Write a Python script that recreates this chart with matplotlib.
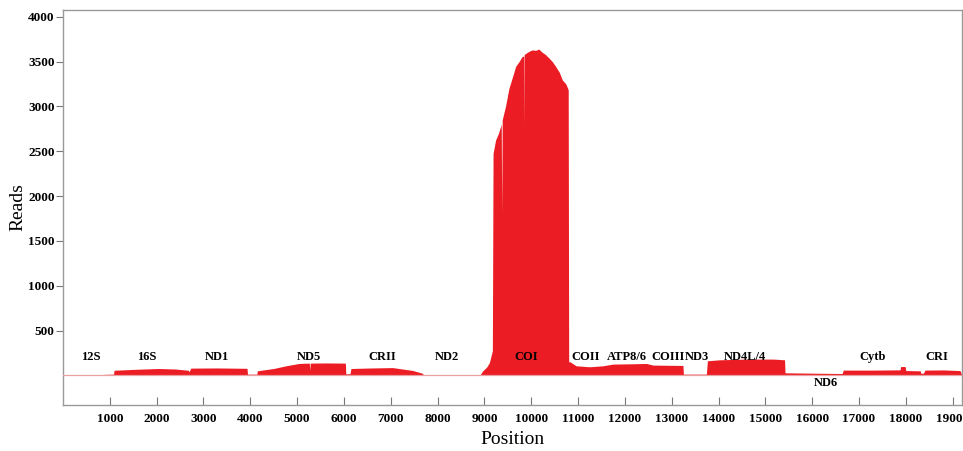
import matplotlib
matplotlib.use('Agg')
import matplotlib.pyplot as plt

# coverage breakpoints (position, reads)
pos = [0, 850, 860, 1080, 1090, 1500, 2050, 2400, 2680, 2690,
       2730, 3300, 3930, 3940, 4140, 4150, 4500, 4760, 5040, 5260,
       5270, 5280, 5600, 6030, 6040, 6130, 6150, 6600, 7040, 7470,
       7680, 7700, 8900, 8960, 9050, 9107, 9170, 9185, 9239, 9300,
       9360, 9370, 9380, 9450, 9523, 9600, 9667, 9740, 9808, 9840,
       9845, 9850, 9951, 10020, 10094, 10160, 10235, 10300, 10378, 10450,
       10521, 10600, 10662, 10740, 10790, 10800, 10818, 10960, 11246, 11531,
       11745, 12100, 12460, 12600, 12900, 13240, 13250, 13740, 13763, 14027,
       14598, 15168, 15410, 15420, 16000, 16640, 16665, 17300, 17877, 17890,
       17985, 18000, 18310, 18320, 18375, 18410, 18800, 19150, 19160, 19200]
reads = [0, 0, 12, 15, 58, 68, 78, 72, 58, 40,
         82, 84, 80, 15, 15, 52, 78, 108, 134, 138,
         60, 138, 140, 138, 18, 20, 78, 84, 88, 56,
         24, 0, 0, 50, 95, 145, 276, 2476, 2625, 2700,
         2800, 1805, 2850, 3000, 3200, 3330, 3446, 3500, 3558, 3560,
         2780, 3580, 3614, 3630, 3625, 3640, 3603, 3580, 3540, 3500,
         3446, 3380, 3297, 3250, 3185, 150, 156, 108, 97, 108,
         127, 130, 134, 116, 114, 112, 15, 15, 164, 175,
         183, 183, 175, 30, 26, 22, 60, 60, 63, 100,
         100, 55, 52, 25, 25, 60, 62, 55, 52, 0]

genes = ['12S', '16S', 'ND1', 'ND5', 'CRII', 'ND2', 'COI', 'COII', 'ATP8/6',
         'COIII', 'ND3', 'ND4L/4', 'ND6', 'Cytb', 'CRI']
gene_x = [590, 1790, 3290, 5250, 6810, 8200, 9890, 11170, 12050,
          12920, 13530, 14570, 16300, 17290, 18660]
gene_y = [206, 206, 206, 206, 206, 206, 206, 206, 206,
          206, 206, 206, -83, 206, 206]

xticks = list(range(1000, 20000, 1000))
yticks = list(range(500, 4001, 500))

plt.rcParams['font.family'] = 'Liberation Serif'

fig = plt.figure(figsize=(9.63, 4.51), dpi=100)
ax = fig.add_axes([63 / 963, 46 / 451, 899 / 963, 395 / 451])

ax.fill_between(pos, 0, reads, color='#ec1c24', linewidth=0)
ax.axhline(0, color='#e8a0a0', lw=0.9, zorder=3)

for g, gx, gy in zip(genes, gene_x, gene_y):
  ax.text(gx, gy, g, ha='center', va='center', fontsize=9,
          fontweight='bold', zorder=4)

ax.set_xlim(0, 19200)
ax.set_ylim(-329, 4075)
ax.set_xticks(xticks)
ax.set_yticks(yticks)
ax.tick_params(axis='x', direction='in', length=6, color='#777777',
               labelsize=9.5, pad=6)
ax.tick_params(axis='y', direction='out', length=5, color='#777777',
               labelsize=9.5, pad=1)
for lab in ax.get_xticklabels() + ax.get_yticklabels():
  lab.set_fontweight('bold')
for sp in ax.spines.values():
  sp.set_color('#999999')
  sp.set_linewidth(1.0)

ax.set_xlabel('Position', fontsize=14, labelpad=4)
ax.set_ylabel('Reads', fontsize=14, labelpad=1)

fig.savefig('out.png', dpi=100)
